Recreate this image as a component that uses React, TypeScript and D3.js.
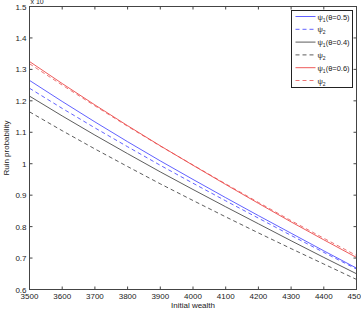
import React from "react";
import { scaleLinear, line } from "d3";

// initial wealth grid and ruin probabilities (x 10^-3)
const wealth = [3500, 3600, 3700, 3800, 3900, 4000, 4100, 4200, 4300, 4400, 4500];
const psi1_05 = [1.265, 1.198, 1.133, 1.07, 1.009, 0.95, 0.892, 0.835, 0.779, 0.723, 0.668];
const psi2_05 = [1.24, 1.176, 1.114, 1.054, 0.995, 0.938, 0.882, 0.827, 0.772, 0.718, 0.665];
const psi1_04 = [1.215, 1.152, 1.091, 1.032, 0.974, 0.918, 0.863, 0.809, 0.755, 0.702, 0.65];
const psi2_04 = [1.165, 1.105, 1.047, 0.991, 0.936, 0.883, 0.831, 0.78, 0.73, 0.681, 0.632];
const psi1_06 = [1.325, 1.255, 1.187, 1.121, 1.057, 0.995, 0.934, 0.874, 0.815, 0.758, 0.702];
const psi2_06 = [1.318, 1.25, 1.184, 1.119, 1.056, 0.996, 0.936, 0.877, 0.819, 0.763, 0.708];

const xTicks = [3500, 3600, 3700, 3800, 3900, 4000, 4100, 4200, 4300, 4400, 4500];
const yTicks = [0.6, 0.7, 0.8, 0.9, 1, 1.1, 1.2, 1.3, 1.4, 1.5];

const series = [
  { data: psi1_05, color: "#3838ff", dash: "", sub: "1", theta: "(θ=0.5)" },
  { data: psi2_05, color: "#3838ff", dash: "4,3", sub: "2", theta: "" },
  { data: psi1_04, color: "#333333", dash: "", sub: "1", theta: "(θ=0.4)" },
  { data: psi2_04, color: "#333333", dash: "4,3", sub: "2", theta: "" },
  { data: psi1_06, color: "#e83030", dash: "", sub: "1", theta: "(θ=0.6)" },
  { data: psi2_06, color: "#e85050", dash: "4,3", sub: "2", theta: "" },
];

const W = 361;
const H = 310;
const left = 29.5;
const right = 356.5;
const top = 6.5;
const bottom = 289.5;
const font = "'Liberation Sans', Arial, sans-serif";

export default function App() {
  const x = scaleLinear().domain([3500, 4500]).range([left, right]);
  const y = scaleLinear().domain([0.6, 1.5]).range([bottom, top]);

  const path = (vals: number[]) =>
    line<number>()
      .x((_, i) => x(wealth[i]))
      .y((d) => y(d))(vals) || "";

  const legX = 291.5;
  const legY = 10.5;
  const legW = 61;
  const legH = 77;
  const rowH = 12.8;

  return (
    <svg
      width={W}
      height={H}
      style={{ position: "absolute", left: 0, top: 0, background: "#fff" }}
      fontFamily={font}
    >
      <rect x={0} y={0} width={W} height={H} fill="#fff" />
      <defs>
        <clipPath id="plot">
          <rect x={left} y={top} width={right - left} height={bottom - top} />
        </clipPath>
      </defs>

      {/* lines */}
      <g clipPath="url(#plot)">
        {series.map((s, i) => (
          <path
            key={i}
            d={path(s.data)}
            fill="none"
            stroke={s.color}
            strokeWidth={0.8}
            strokeDasharray={s.dash || undefined}
          />
        ))}
      </g>

      {/* axes box */}
      <rect
        x={left}
        y={top}
        width={right - left}
        height={bottom - top}
        fill="none"
        stroke="#444"
        strokeWidth={1}
      />

      {/* x ticks */}
      {xTicks.map((t) => (
        <g key={t}>
          <line x1={x(t)} x2={x(t)} y1={bottom} y2={bottom - 3} stroke="#444" />
          <line x1={x(t)} x2={x(t)} y1={top} y2={top + 3} stroke="#444" />
          <text x={x(t)} y={bottom + 9} fontSize={8} textAnchor="middle" fill="#222">
            {t}
          </text>
        </g>
      ))}

      {/* y ticks */}
      {yTicks.map((t) => (
        <g key={t}>
          <line x1={left} x2={left + 3} y1={y(t)} y2={y(t)} stroke="#444" />
          <line x1={right} x2={right - 3} y1={y(t)} y2={y(t)} stroke="#444" />
          <text x={left - 3} y={y(t) + 3} fontSize={8} textAnchor="end" fill="#222">
            {t}
          </text>
        </g>
      ))}

      {/* exponent label, partly clipped at the top */}
      <text x={left + 1} y={4} fontSize={7} fill="#222">
        x 10
      </text>
      <text x={left + 18} y={0} fontSize={6} fill="#222">
        -3
      </text>

      <text x={(left + right) / 2} y={308} fontSize={8} textAnchor="middle" fill="#222">
        Initial wealth
      </text>
      <text
        transform={`translate(9,${(top + bottom) / 2}) rotate(-90)`}
        fontSize={8}
        textAnchor="middle"
        fill="#222"
      >
        Ruin probability
      </text>

      {/* legend */}
      <rect x={legX} y={legY} width={legW} height={legH} fill="#fff" stroke="#222" strokeWidth={1} />
      {series.map((s, i) => {
        const ly = legY + 6 + i * rowH;
        return (
          <g key={i}>
            <line
              x1={legX + 4}
              x2={legX + 24}
              y1={ly}
              y2={ly}
              stroke={s.color}
              strokeWidth={0.8}
              strokeDasharray={s.dash || undefined}
            />
            <text x={legX + 26} y={ly + 3} fontSize={7.5} fill="#222">
              ψ
              <tspan fontSize={5} dy={2}>
                {s.sub}
              </tspan>
              <tspan dy={-2}>{s.theta}</tspan>
            </text>
          </g>
        );
      })}
    </svg>
  );
}
